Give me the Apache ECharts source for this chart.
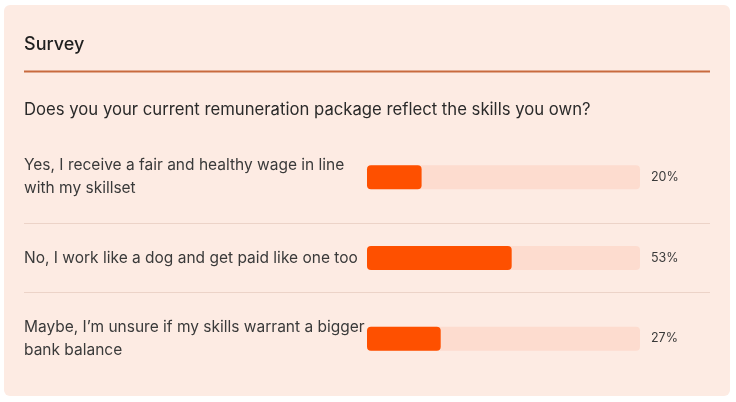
<!DOCTYPE html>
<html lang="en">
  <head>
    <meta charset="UTF-8" />
    <title>Survey</title>
    <script src="https://cdn.jsdelivr.net/npm/echarts@6/dist/echarts.min.js"></script>
    <style>
      html, body { margin: 0; padding: 0; background: #ffffff; }
      #chart { width: 736px; height: 402px; }
    </style>
  </head>
  <body>
    <div id="chart"></div>
  </body>
</html>
<script>
  const titleText = "Survey";
  const question = "Does you your current remuneration package reflect the skills you own?";
  const answers = [
    "Yes, I receive a fair and healthy wage in line\nwith my skillset",
    "No, I work like a dog and get paid like one too",
    "Maybe, I\u2019m unsure if my skills warrant a bigger\nbank balance",
  ];
  const percents = [20, 53, 27];
  const percentLabels = percents.map((p) => p + "%");

  const font = "Inter, 'Noto Sans', sans-serif";
  const chart = echarts.init(document.getElementById("chart"));

  let option = {
    textStyle: { fontFamily: font },
    title: [
      {
        text: titleText,
        left: 24,
        top: 36,
        padding: 0,
        textStyle: { fontFamily: font, fontSize: 18, fontWeight: 500, color: "#1f1f1f" },
      },
      {
        text: question,
        left: 24,
        top: 101,
        padding: 0,
        textStyle: { fontFamily: font, fontSize: 16.7, fontWeight: 400, color: "#2a2a2a" },
      },
    ],
    graphic: [
      {
        type: "rect",
        z: -10,
        shape: { x: 4, y: 5, width: 726, height: 391, r: 6 },
        style: { fill: "#fdebe3" },
      },
      {
        type: "line",
        shape: { x1: 24, y1: 71.5, x2: 710, y2: 71.5 },
        style: { stroke: "#c86a3e", lineWidth: 2 },
      },
      {
        type: "line",
        shape: { x1: 24, y1: 223.5, x2: 710, y2: 223.5 },
        style: { stroke: "#ecd3c8", lineWidth: 1 },
      },
      {
        type: "line",
        shape: { x1: 24, y1: 292.5, x2: 710, y2: 292.5 },
        style: { stroke: "#ecd3c8", lineWidth: 1 },
      },
    ],
    grid: { left: 367, right: 96, top: 137, bottom: 23 },
    xAxis: {
      type: "value",
      min: 0,
      max: 100,
      show: false,
    },
    yAxis: [
      {
        type: "category",
        inverse: true,
        data: answers,
        axisLine: { show: false },
        axisTick: { show: false },
        splitLine: { show: false },
        axisLabel: {
          align: "left",
          margin: 343,
          fontFamily: font,
          fontSize: 15.5,
          lineHeight: 23,
          padding: [3, 0, 0, 0],
          color: "#3a3a3a",
        },
      },
      {
        type: "category",
        inverse: true,
        position: "right",
        data: percentLabels,
        axisLine: { show: false },
        axisTick: { show: false },
        splitLine: { show: false },
        axisLabel: {
          align: "left",
          margin: 11,
          fontFamily: font,
          fontSize: 12.5,
          color: "#3a3a3a",
        },
      },
    ],
    series: [
      {
        type: "bar",
        data: percents,
        barWidth: 24,
        showBackground: true,
        backgroundStyle: { color: "#fddccf", borderRadius: 4 },
        itemStyle: { color: "#fe5000", borderRadius: 4 },
      },
    ],
  };
  chart.setOption(option);
</script>
